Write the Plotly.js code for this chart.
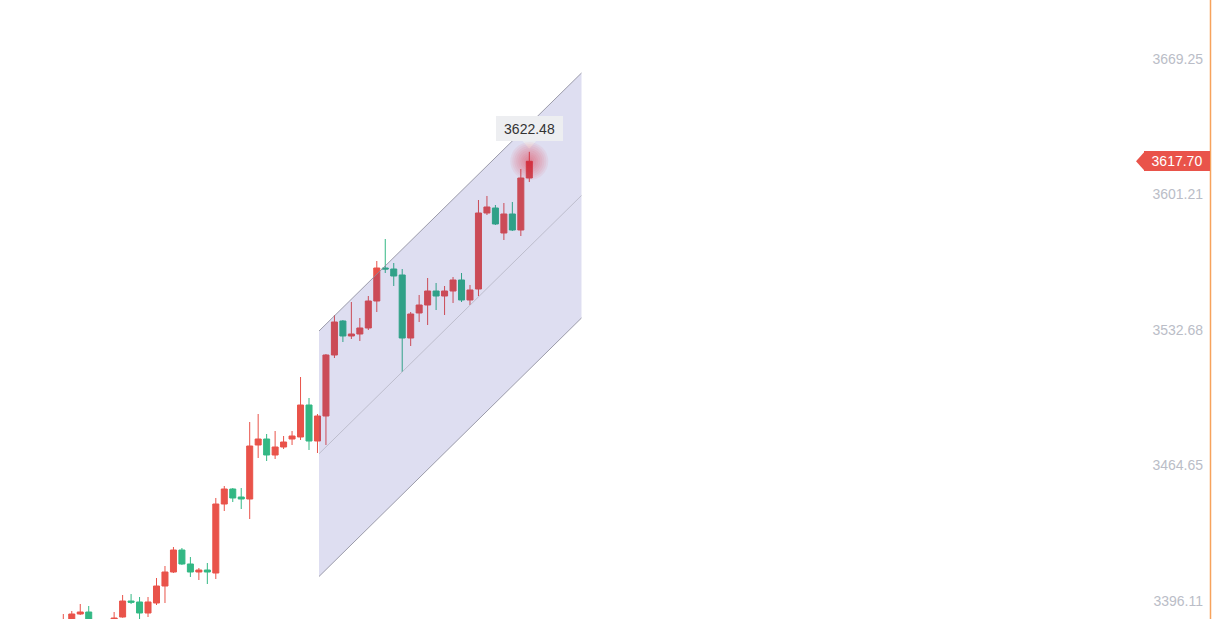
<!DOCTYPE html>
<html>
<head>
<meta charset="utf-8">
<script src="https://cdn.plot.ly/plotly-3.0.1.min.js"></script>
<style>
  html, body { margin: 0; padding: 0; background: #ffffff; }
  #chart { width: 1212px; height: 619px; }
</style>
</head>
<body>
<div id="chart"></div>
<script>
// Candle index (time slots)
var candleIdx = [0,1,2,3,6,7,8,9,10,11,12,13,14,15,16,17,18,19,20,21,22,23,24,25,26,27,28,29,30,31,32,33,34,35,36,37,38,39,40,41,42,43,44,45,46,47,48,49,50,51,52,53,54,55];
var openP  = [3381.49,3384.01,3389.56,3390.57,3386.60,3388.05,3396.11,3395.61,3390.06,3395.10,3403.67,3410.72,3421.81,3414.76,3410.72,3411.73,3410.22,3444.99,3452.55,3448.52,3447.51,3474.73,3477.75,3469.69,3473.72,3477.75,3478.76,3494.88,3476.74,3489.34,3520.08,3537.22,3529.66,3530.66,3533.69,3547.29,3563.92,3563.42,3560.40,3528.65,3541.25,3545.28,3552.33,3549.81,3552.33,3557.88,3547.80,3553.34,3591.64,3594.16,3581.56,3591.14,3583.07,3609.28];
var highP  = [3389.56,3391.07,3394.60,3393.59,3390.57,3399.13,3399.63,3398.12,3398.12,3407.70,3413.75,3423.32,3422.82,3418.28,3412.74,3415.26,3448.02,3454.06,3453.05,3453.05,3486.32,3490.35,3480.27,3481.78,3479.26,3481.78,3508.99,3498.41,3490.35,3520.58,3540.24,3537.72,3546.79,3538.73,3549.81,3567.45,3578.54,3566.44,3563.42,3541.75,3550.32,3558.88,3556.37,3554.85,3559.39,3561.40,3555.36,3598.19,3600.21,3595.67,3596.68,3597.19,3613.82,3622.48];
var lowP   = [3380.48,3383.00,3389.05,3383.51,3384.00,3387.70,3394.60,3387.04,3388.05,3394.09,3395.10,3410.22,3414.30,3408.20,3406.69,3404.68,3407.20,3441.46,3446.00,3442.47,3437.43,3468.17,3466.66,3467.67,3472.71,3474.73,3477.25,3472.21,3470.69,3474.73,3518.57,3526.63,3528.14,3527.14,3532.68,3541.75,3561.40,3554.85,3511.51,3524.62,3536.71,3535.20,3542.76,3540.24,3546.29,3546.79,3545.28,3549.81,3590.63,3585.60,3578.04,3582.57,3580.05,3607.26];
var closeP = [3386.03,3389.56,3390.57,3385.02,3387.54,3396.11,3395.45,3390.06,3395.61,3403.67,3410.72,3421.81,3414.76,3410.72,3411.73,3410.72,3444.99,3452.55,3448.02,3447.51,3474.22,3477.75,3469.69,3473.72,3476.24,3479.26,3494.88,3476.74,3489.34,3520.08,3536.71,3529.66,3530.66,3533.69,3547.29,3563.92,3563.42,3559.89,3528.65,3540.74,3545.28,3552.33,3549.81,3552.33,3557.88,3547.80,3552.84,3591.64,3594.67,3586.10,3591.14,3583.07,3609.28,3617.70];

// Y axis tick values / labels
var yTickVals = [3396.11, 3464.65, 3532.68, 3601.21, 3669.25];
var yTickText = ["3396.11", "3464.65", "3532.68", "3601.21", "3669.25"];

// Parallel channel drawing (anchor points: time index, upper price, lower price)
var channelX     = [30.18, 61.16];
var channelUpper = [3532.17, 3662.19];
var channelLower = [3408.46, 3538.73];

// Marked values
var lastPrice = 3617.70;
var peakLabel = "3622.48";
var peakValue = 3622.48;

var lastIdx = candleIdx[candleIdx.length - 1];
var chMid = [(channelUpper[0] + channelLower[0]) / 2, (channelUpper[1] + channelLower[1]) / 2];

var RED = '#E9534A', GREEN = '#33B884';

var candles = {
  type: 'candlestick',
  x: candleIdx, open: openP, high: highP, low: lowP, close: closeP,
  increasing: { line: { color: RED, width: 1 }, fillcolor: RED },
  decreasing: { line: { color: GREEN, width: 1 }, fillcolor: GREEN },
  whiskerwidth: 0,
  hoverinfo: 'skip',
  showlegend: false
};

var pxPerIdx = 8.4727;
var xLeft = -63.3 / pxPerIdx;
var xRight = (1212 - 63.3) / pxPerIdx;

var shapes = [
  { type: 'path', layer: 'above', xref: 'x', yref: 'y',
    path: 'M ' + channelX[0] + ',' + channelUpper[0] + ' L ' + channelX[1] + ',' + channelUpper[1] +
          ' L ' + channelX[1] + ',' + channelLower[1] + ' L ' + channelX[0] + ',' + channelLower[0] + ' Z',
    fillcolor: 'rgba(33,32,160,0.15)', line: { width: 0 } },
  { type: 'line', layer: 'above', xref: 'x', yref: 'y',
    x0: channelX[0], y0: channelUpper[0], x1: channelX[1], y1: channelUpper[1],
    line: { color: 'rgba(140,140,155,0.85)', width: 1 } },
  { type: 'line', layer: 'above', xref: 'x', yref: 'y',
    x0: channelX[0], y0: channelLower[0], x1: channelX[1], y1: channelLower[1],
    line: { color: 'rgba(140,140,155,0.85)', width: 1 } },
  { type: 'line', layer: 'above', xref: 'x', yref: 'y',
    x0: channelX[0], y0: chMid[0], x1: channelX[1], y1: chMid[1],
    line: { color: 'rgba(175,175,190,0.7)', width: 1 } },
  // right border
  { type: 'line', layer: 'above', xref: 'paper', yref: 'paper',
    x0: 1210.5 / 1212, x1: 1210.5 / 1212, y0: 0, y1: 1,
    line: { color: '#F7A35C', width: 1.5 } },
  // price tag arrow
  { type: 'path', layer: 'above', xref: 'paper', yref: 'y',
    xsizemode: 'pixel', ysizemode: 'pixel', xanchor: 1, yanchor: lastPrice,
    path: 'M -67,10 L -76,0 L -67,-10 Z',
    fillcolor: RED, line: { width: 0 } },
  // tooltip pointer
  { type: 'path', layer: 'above', xref: 'x', yref: 'y',
    xsizemode: 'pixel', ysizemode: 'pixel', xanchor: lastIdx, yanchor: peakValue,
    path: 'M -7,11 L 0,3 L 7,11 Z',
    fillcolor: 'rgba(235,236,240,0.85)', line: { width: 0 } }
];

// glow around the latest price (concentric soft circles drawn above the channel)
[19, 17, 15, 13, 11, 9, 7, 5, 3].forEach(function (r) {
  shapes.push({ type: 'circle', layer: 'above', xref: 'x', yref: 'y',
    xsizemode: 'pixel', ysizemode: 'pixel', xanchor: lastIdx, yanchor: lastPrice,
    x0: -r, x1: r, y0: -r, y1: r,
    fillcolor: 'rgba(240,25,35,0.055)', line: { width: 0 } });
});

var layout = {
  width: 1212, height: 619,
  margin: { l: 0, r: 0, t: 0, b: 0, pad: 0 },
  paper_bgcolor: '#ffffff', plot_bgcolor: '#ffffff',
  showlegend: false,
  hovermode: false,
  boxgap: 0.29, boxgroupgap: 0,
  font: { family: '"Liberation Sans", Arial, sans-serif' },
  xaxis: {
    range: [xLeft, xRight],
    showgrid: false, zeroline: false, showticklabels: false, ticks: '',
    showline: false, fixedrange: true,
    rangeslider: { visible: false }
  },
  yaxis: {
    side: 'right',
    range: [3387.04, 3698.98],
    tickvals: yTickVals, ticktext: yTickText,
    ticklabelposition: 'inside',
    ticklabelstandoff: 6,
    ticks: '', showgrid: false, zeroline: false, showline: false,
    tickfont: { size: 14, color: '#BABDC7', family: '"Liberation Sans", Arial, sans-serif' },
    fixedrange: true
  },
  shapes: shapes,
  annotations: [
    { xref: 'paper', yref: 'y', x: 1, y: lastPrice, xanchor: 'right', yanchor: 'middle',
      xshift: -2, text: lastPrice.toFixed(2), showarrow: false,
      font: { size: 14, color: '#ffffff', family: '"Liberation Sans", Arial, sans-serif' },
      bgcolor: RED, borderpad: 2, borderwidth: 0, width: 62, height: 16, align: 'center' },
    { xref: 'x', yref: 'y', x: lastIdx, y: peakValue, xanchor: 'center', yanchor: 'bottom',
      yshift: 11, text: peakLabel, showarrow: false,
      font: { size: 14, color: '#333333', family: '"Liberation Sans", Arial, sans-serif' },
      bgcolor: '#EDEEF1', borderpad: 3.5, borderwidth: 0, width: 60, height: 18, align: 'center' }
  ]
};

Plotly.newPlot('chart', [candles], layout, { displayModeBar: false, staticPlot: true });
</script>
</body>
</html>
